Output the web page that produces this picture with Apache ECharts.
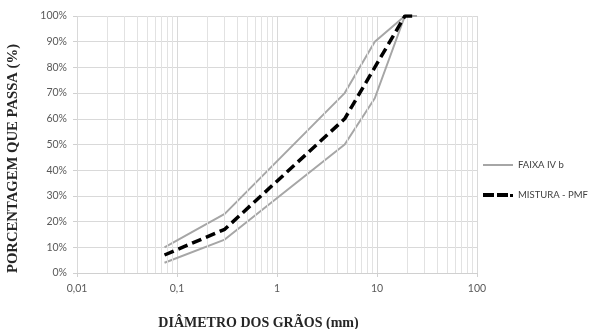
<!DOCTYPE html>
<html><head><meta charset="utf-8">
<script src="https://cdn.jsdelivr.net/npm/echarts@6/dist/echarts.min.js"></script>
<style>html,body{margin:0;padding:0;background:#fff}#c{width:598px;height:329px}</style>
</head><body><div id="c"></div>
<script>
// Sieve diameters (mm)
var sieves = [0.075, 0.3, 4.75, 9.5, 19, 25];
var faixaUpper = [10, 23, 70, 90, 100, 100];
var faixaLower = [4, 13, 50, 68, 100, 100];
var mistura = [7, 17, 60, 80, 100, 100];
var minorGrid = [0.02,0.03,0.04,0.05,0.06,0.07,0.08,0.09,0.2,0.3,0.4,0.5,0.6,0.7,0.8,0.9,2,3,4,5,6,7,8,9,20,30,40,50,60,70,80,90];
var xTicks = [0.01, 0.1, 1, 10, 100];
var yTicks = [0,10,20,30,40,50,60,70,80,90,100];

function pairs(xs, ys){ return xs.map(function(x,i){return [x, ys[i]];}); }

var chart = echarts.init(document.getElementById('c'));
chart.setOption({
  animation:false,
  grid:{left:77, right:121, top:16, bottom:56, outerBoundsMode:'none', containLabel:false},
  graphic:[{type:'text', x:13, y:158.5, rotation:Math.PI/2,
    style:{text:'PORCENTAGEM QUE PASSA (%)', font:'bold 14.7px "Liberation Serif"', fill:'#262626',
      textAlign:'center', textVerticalAlign:'middle'}}],
  xAxis:{type:'log', logBase:10, min:0.01, max:100,
    axisLine:{show:true, lineStyle:{color:'#d0d0d0'}},
    axisTick:{show:true, length:4, lineStyle:{color:'#d0d0d0'}},
    splitLine:{show:true, lineStyle:{color:'#d9d9d9', width:1}},
    axisLabel:{color:'#595959', fontFamily:'Lato', fontSize:10.5, margin:10,
      formatter:function(v){ return String(+v.toPrecision(6)).replace('.', ','); }},
    name:'DIÂMETRO DOS GRÃOS (mm)', nameLocation:'middle', nameGap:43,
    nameTextStyle:{fontFamily:'Liberation Serif', fontWeight:'bold', fontSize:14, color:'#262626', padding:[0,37,0,0]}
  },
  yAxis:{type:'value', min:0, max:100, interval:10,
    axisLine:{show:false},
    axisTick:{show:true, length:4, lineStyle:{color:'#d0d0d0'}},
    splitLine:{show:true, lineStyle:{color:'#d9d9d9', width:1}},
    axisLabel:{color:'#595959', fontFamily:'Lato', fontSize:10.5, margin:10, formatter:'{value}%'}
  },
  legend:{orient:'vertical', left:478, top:155, itemWidth:30, itemHeight:4, itemGap:20,
    textStyle:{fontFamily:'Lato', fontSize:9.5, color:'#404040'},
    data:[
      {name:'FAIXA IV b', icon:'path://M0,1h30v2h-30z'},
      {name:'MISTURA - PMF', icon:'path://M0,0h11v4h-11z M14,0h11v4h-11z M27,1h3v3h-3z'}
    ]},
  series:[
    {type:'line', name:'minor', silent:true, data:[], symbol:'none',
     markLine:{silent:true, symbol:'none', label:{show:false}, animation:false,
       lineStyle:{color:'#e2e2e2', width:1, type:'solid'},
       data: minorGrid.map(function(v){return {xAxis:v};})}},
    {type:'line', name:'FAIXA IV b', data:pairs(sieves, faixaUpper), symbol:'none',
     lineStyle:{color:'#a6a6a6', width:2}, itemStyle:{color:'#a6a6a6'}},
    {type:'line', name:'FAIXA IV b', data:pairs(sieves, faixaLower), symbol:'none',
     lineStyle:{color:'#a6a6a6', width:2}, itemStyle:{color:'#a6a6a6'}},
    {type:'line', name:'MISTURA - PMF', data:pairs(sieves, mistura), symbol:'none', z:5,
     lineStyle:{color:'#000', width:3.5, type:[10,5]}, itemStyle:{color:'#000'}}
  ]
});
</script></body></html>
